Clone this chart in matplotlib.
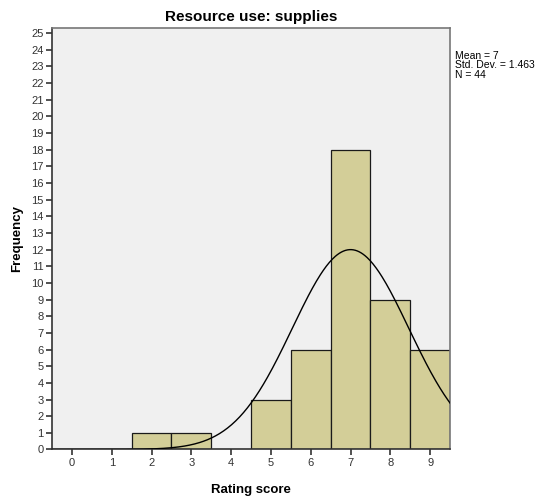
import numpy as np
import matplotlib.pyplot as plt

# histogram of rating scores
scores = [0, 1, 2, 3, 4, 5, 6, 7, 8, 9]
counts = [0, 0, 1, 1, 0, 3, 6, 18, 9, 6]
mean = 7
std = 1.463
n = 44
stats_text = ["Mean = 7", "Std. Dev. = 1.463", "N = 44"]

plt.rcParams['font.family'] = ['Liberation Sans', 'DejaVu Sans']

fig = plt.figure(figsize=(5.39, 4.97), dpi=100)
ax = fig.add_axes([0.0965, 0.0956, 0.7385, 0.848])
ax.set_facecolor('#F0F0F0')

for s, c in zip(scores, counts):
    if c > 0:
        ax.bar(s, c, width=1.0, color='#D3CE98', edgecolor='#1a1a1a', linewidth=0.9, zorder=2)

xs = np.linspace(-0.5, 9.5, 400)
ys = n * 1.0 / (std * np.sqrt(2 * np.pi)) * np.exp(-0.5 * ((xs - mean) / std) ** 2)
ax.plot(xs, ys, color='black', linewidth=1.0, zorder=3)

ax.set_xlim(-0.5, 9.5)
ax.set_ylim(0, 25.3)
ax.set_xticks(scores)
ax.set_yticks(range(0, 26))
ax.tick_params(axis='both', labelsize=8, colors='#333333', length=4, width=1.2, direction='out', pad=2)
for sp in ax.spines.values():
    sp.set_color('#777777')
    sp.set_linewidth(1.2)
ax.spines['left'].set_color('#333333')
ax.spines['bottom'].set_color('#333333')

ax.set_title("Resource use: supplies", fontsize=11, fontweight='bold', pad=5)
ax.set_xlabel("Rating score", fontsize=9.5, fontweight='bold', labelpad=12)
ax.set_ylabel("Frequency", fontsize=9.5, fontweight='bold', labelpad=6)

fig.text(0.845, 0.897, "\n".join(stats_text), fontsize=7.5, va='top', ha='left', linespacing=0.9)

fig.savefig("out.png", dpi=100, facecolor='white')
